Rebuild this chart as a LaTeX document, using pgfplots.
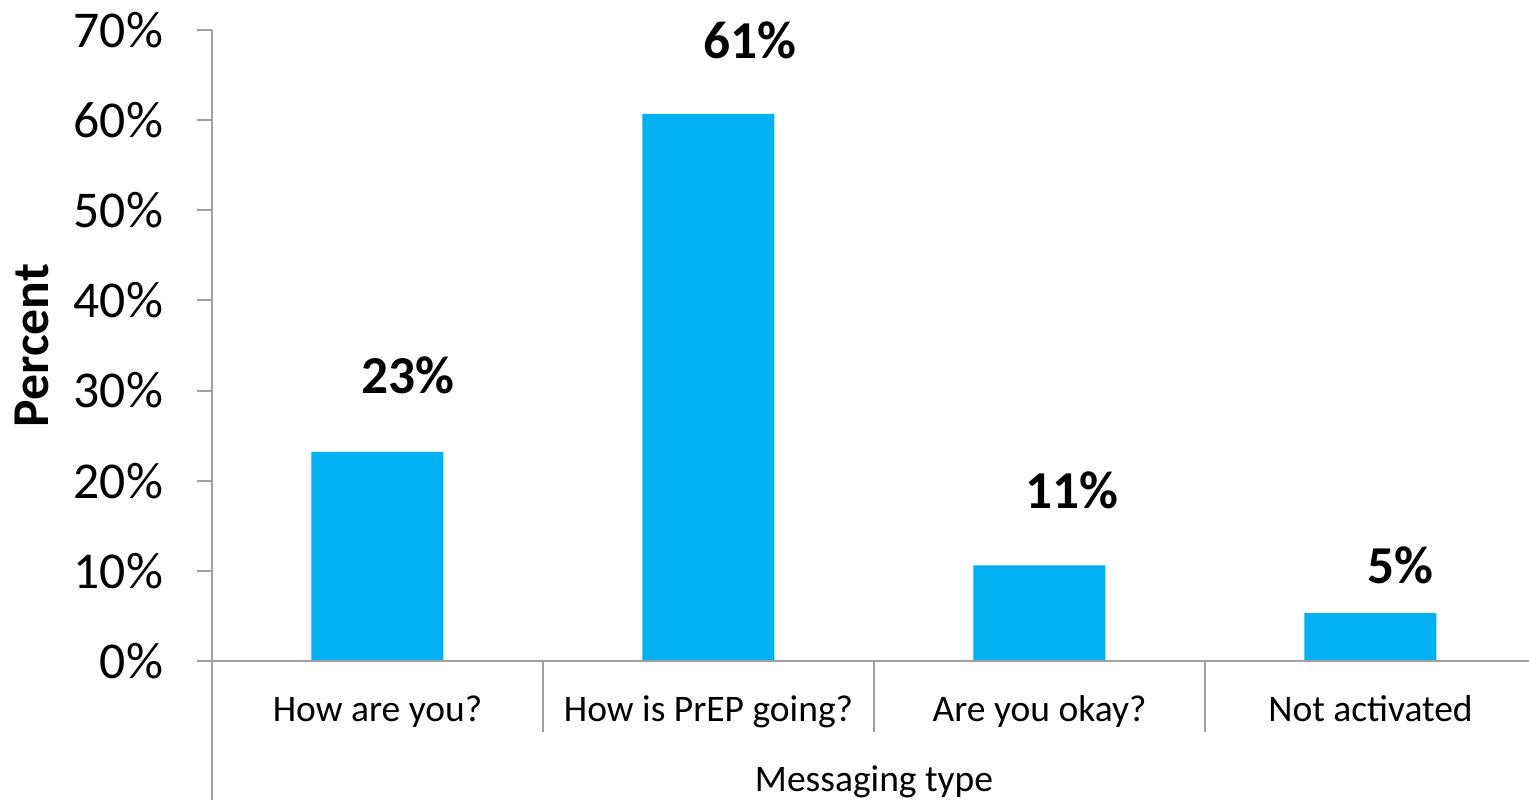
\documentclass[border=0pt]{standalone}
\usepackage{pgfplots}
\pgfplotsset{compat=1.18}
\usepackage{fontspec}
\setmainfont{Carlito}
\definecolor{barblue}{HTML}{00B0F0}
\definecolor{axgray}{HTML}{A0A0A0}
\begin{document}
\begin{tikzpicture}
\useasboundingbox (-63.6pt,-42.3pt) rectangle (395.1pt,198.3pt);
\begin{axis}[
  scale only axis,
  width=397.2pt, height=189.3pt,
  xmin=-0.5, xmax=3.5, ymin=0, ymax=70,
  axis x line=none,
  axis y line*=left,
  axis line style={axgray, line width=0.6pt},
  ytick={0,10,...,70},
  yticklabel={\pgfmathprintnumber{\tick}\%},
  yticklabel style={font=\fontsize{15.5}{18}\selectfont, anchor=east, inner sep=0pt, xshift=-10pt},
  y tick style={axgray, line width=0.6pt},
  tick align=outside,
  major tick length=4.5pt,
  clip=false,
  /pgf/number format/assume math mode=true,
]
\addplot[ybar, bar width=39.6pt, fill=barblue, draw=none,
  point meta=explicit,
  visualization depends on={\thisrow{off} \as \off},
  visualization depends on={\thisrow{xoff} \as \xoff},
  nodes near coords={\pgfmathprintnumber[precision=0,fixed]{\pgfplotspointmeta}\%},
  nodes near coords style={font=\fontsize{16}{19}\selectfont\bfseries, anchor=base, inner sep=0pt, xshift=\xoff pt, yshift=\off pt, text=black}
] table[x=x, y=y, meta=y] {
x y    off  xoff
0 23.2 17.5 9.0
1 60.7 16.5 12.3
2 10.6 17.0 9.6
3 5.3  9.0  9.0
};
% axis lines
\draw[axgray, line width=0.6pt] ([xshift=-4.5pt]axis cs:-0.5,0) -- (axis cs:3.5,0);
\draw[axgray, line width=0.6pt] (axis cs:-0.5,0) -- ([yshift=-41.7pt]axis cs:-0.5,0);
\draw[axgray, line width=0.6pt] (axis cs:0.5,0) -- ([yshift=-21.3pt]axis cs:0.5,0);
\draw[axgray, line width=0.6pt] (axis cs:1.5,0) -- ([yshift=-21.3pt]axis cs:1.5,0);
\draw[axgray, line width=0.6pt] (axis cs:2.5,0) -- ([yshift=-21.3pt]axis cs:2.5,0);
% y label
\node[rotate=90, font=\fontsize{15.5}{18}\selectfont\bfseries, anchor=center] at ([xshift=-54pt]rel axis cs:0,0.5) {Percent};
% category labels
\node[anchor=base, font=\fontsize{11.25}{13}\selectfont, yshift=-18.3pt] at (axis cs:0,0) {How are you?};
\node[anchor=base, font=\fontsize{11.25}{13}\selectfont, yshift=-18.3pt] at (axis cs:1,0) {How is PrEP going?};
\node[anchor=base, font=\fontsize{11.25}{13}\selectfont, yshift=-18.3pt] at (axis cs:2,0) {Are you okay?};
\node[anchor=base, font=\fontsize{11.25}{13}\selectfont, yshift=-18.3pt] at (axis cs:3,0) {Not activated};
\node[anchor=base, font=\fontsize{11.25}{13}\selectfont, yshift=-39.3pt] at (axis cs:1.5,0) {Messaging type};
\end{axis}
\end{tikzpicture}
\end{document}
